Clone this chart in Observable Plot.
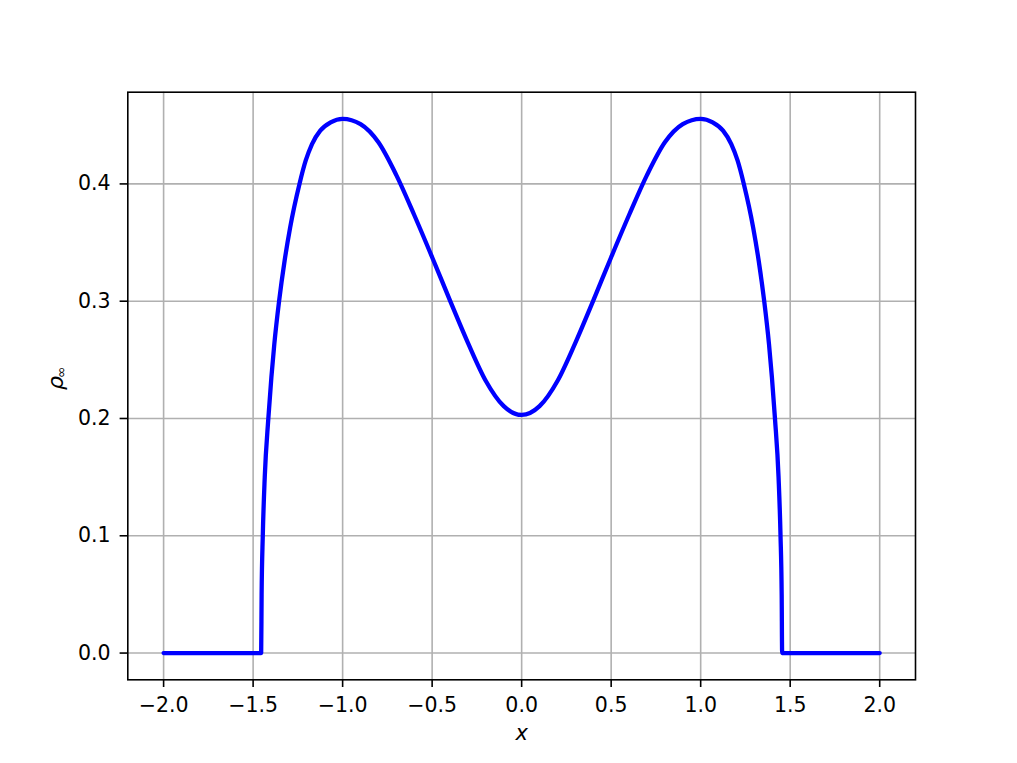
<!DOCTYPE html>
<html>
<head>
<meta charset="utf-8">
<script src="https://cdn.jsdelivr.net/npm/d3@7"></script>
<script src="https://cdn.jsdelivr.net/npm/@observablehq/plot@0.6"></script>
<style>
  html, body { margin: 0; padding: 0; background: #ffffff; }
  #chart svg { display: block; }
</style>
</head>
<body>
<div id="chart"></div>
<script>
// Values
const xValues = [
  -2.0, -1.455, -1.4525, -1.446, -1.435, -1.415, -1.398, -1.3815, -1.355, -1.324,
  -1.293, -1.241, -1.206, -1.171, -1.125, -1.067, -1.000, -0.9, -0.8, -0.7,
  -0.6, -0.5, -0.4, -0.3, -0.2, -0.1, 0.0,
  0.1, 0.2, 0.3, 0.4, 0.5, 0.6, 0.7, 0.8, 0.9,
  1.000, 1.067, 1.125, 1.171, 1.206, 1.241, 1.293, 1.324, 1.355, 1.3815,
  1.398, 1.415, 1.435, 1.446, 1.4525, 1.455, 2.0
];
const rhoValues = [
  0.0, 0.0, 0.050, 0.100, 0.150, 0.200, 0.235, 0.2636, 0.300, 0.3346,
  0.363, 0.400, 0.420, 0.434, 0.4454, 0.4525, 0.4555, 0.451, 0.4355, 0.4075,
  0.3735, 0.3375, 0.3005, 0.2645, 0.232, 0.2105, 0.203,
  0.2105, 0.232, 0.2645, 0.3005, 0.3375, 0.3735, 0.4075, 0.4355, 0.451,
  0.4555, 0.4525, 0.4454, 0.434, 0.420, 0.400, 0.363, 0.3346, 0.300, 0.2636,
  0.235, 0.200, 0.150, 0.100, 0.050, 0.0, 0.0
];
const xTicks = [-2.0, -1.5, -1.0, -0.5, 0.0, 0.5, 1.0, 1.5, 2.0];
const yTicks = [0.0, 0.1, 0.2, 0.3, 0.4];
const xLabel = "x";
const yLabelMain = "ρ";
const yLabelSub = "∞";

const data = xValues.map((x, i) => ({x, rho: rhoValues[i]}));
const fmt = d3.format(".1f");

const chart = Plot.plot({
  width: 1017,
  height: 763,
  marginLeft: 127.3,
  marginRight: 102,
  marginTop: 91.7,
  marginBottom: 83.7,
  style: {fontFamily: "DejaVu Sans", fontSize: "20.5px", color: "#000000", background: "#ffffff"},
  x: {domain: [-2.2, 2.2], label: null},
  y: {domain: [-0.0228, 0.4782], label: null},
  marks: [
    Plot.gridX({ticks: xTicks, stroke: "#b0b0b0", strokeOpacity: 1, strokeWidth: 1.6}),
    Plot.gridY({ticks: yTicks, stroke: "#b0b0b0", strokeOpacity: 1, strokeWidth: 1.6}),
    Plot.line(data, {x: "x", y: "rho", stroke: "#0000ff", strokeWidth: 4.3, curve: "monotone-x"}),
    Plot.frame({stroke: "#000000", strokeWidth: 1.6}),
    Plot.axisX({ticks: xTicks, tickFormat: fmt, tickSize: 7.7, tickPadding: 10, strokeWidth: 1.6, fontSize: 20.5, label: null}),
    Plot.axisY({ticks: yTicks, tickFormat: fmt, tickSize: 7.7, tickPadding: 9.6, strokeWidth: 1.6, fontSize: 20.5, label: null}),
    Plot.text([xLabel], {frameAnchor: "bottom", dy: 60, fontStyle: "italic", fontSize: 21, text: d => d}),
    Plot.text([yLabelMain], {frameAnchor: "left", dx: -72, dy: 4, rotate: -90, fontStyle: "italic", fontSize: 22, text: d => d}),
    Plot.text([yLabelSub], {frameAnchor: "left", dx: -66, dy: -8, rotate: -90, fontSize: 14, text: d => d})
  ]
});
document.getElementById("chart").appendChild(chart);
</script>
</body>
</html>
